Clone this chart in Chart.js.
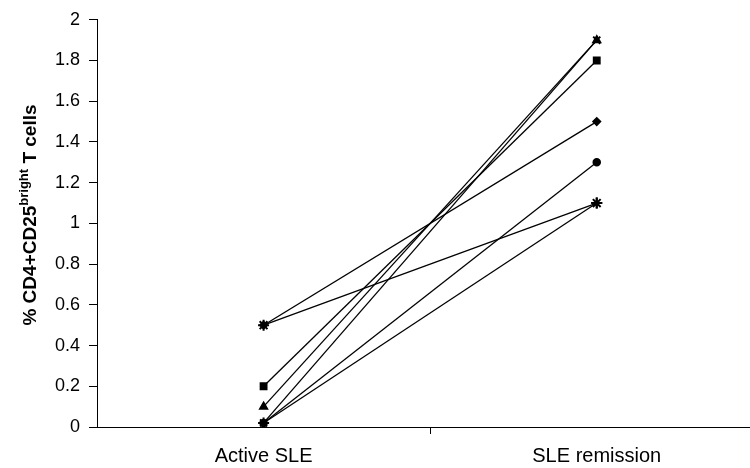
<!DOCTYPE html>
<html>
<head>
<meta charset="utf-8">
<script src="https://cdn.jsdelivr.net/npm/chart.js@4.4.1/dist/chart.umd.min.js"></script>
<style>
  body { margin: 0; background: #fff; overflow: hidden; }
  #chart { display: block; }
</style>
</head>
<body>
<canvas id="chart" width="750" height="468"></canvas>
<script>
const categories = ["Active SLE", "SLE remission"];
// one entry per patient: value in active disease, value in remission
const activeValues = [0.5, 0.2, 0.1, 0.02, 0.5, 0.02, 0.02];
const remissionValues = [1.5, 1.8, 1.9, 1.9, 1.1, 1.3, 1.1];
const markers = ["rectRot", "rect", "triangle", "crossRot", "star", "circle", "cross"];
const yTicks = [0, 0.2, 0.4, 0.6, 0.8, 1, 1.2, 1.4, 1.6, 1.8, 2];

const fontFamily = "'Liberation Sans', Arial, sans-serif";
const markerSize = { rectRot: 3.8, rect: 4.5, triangle: 4.5, crossRot: 5, star: 5.5, circle: 3.5, cross: 5.5 };

// later series sit on top, like the original spreadsheet
const datasets = activeValues.map((a, i) => ({
  label: "Patient " + (i + 1),
  data: [{ x: 1, y: a }, { x: 2, y: remissionValues[i] }],
  order: -i,
  borderColor: "#000",
  backgroundColor: "#000",
  borderWidth: 1.3,
  pointStyle: markers[i],
  pointRadius: markerSize[markers[i]],
  pointBorderWidth: markers[i] === "star" || markers[i] === "cross" || markers[i] === "crossRot" ? 2 : 1.5,
  pointBorderColor: "#000",
  pointBackgroundColor: "#000",
  tension: 0
}));

const yTitle = {
  id: "yTitle",
  afterDraw(chart) {
    const ctx = chart.ctx;
    const parts = [
      { t: "% CD4+CD25", f: "bold 19px " + fontFamily, dy: 0 },
      { t: "bright", f: "bold 13px " + fontFamily, dy: -8 },
      { t: " T cells", f: "bold 19px " + fontFamily, dy: 0 }
    ];
    ctx.save();
    let total = 0;
    parts.forEach(p => { ctx.font = p.f; p.w = ctx.measureText(p.t).width; total += p.w; });
    ctx.translate(36, 215);
    ctx.rotate(-Math.PI / 2);
    ctx.fillStyle = "#000";
    ctx.textBaseline = "alphabetic";
    let x = -total / 2;
    parts.forEach(p => {
      ctx.font = p.f;
      ctx.fillText(p.t, x, p.dy);
      x += p.w;
    });
    ctx.restore();
  }
};

new Chart(document.getElementById("chart"), {
  type: "line",
  data: { datasets },
  plugins: [yTitle],
  options: {
    responsive: false,
    animation: false,
    devicePixelRatio: 1,
    layout: { autoPadding: false, padding: { top: 16, right: 0, left: 0, bottom: 0 } },
    plugins: { legend: { display: false }, tooltip: { enabled: false } },
    scales: {
      x: {
        type: "linear",
        min: 0.5,
        max: 2.46,
        afterBuildTicks: s => { s.ticks = [{ value: 1 }, { value: 1.5 }, { value: 2 }]; },
        afterFit: s => { s.height = 41; },
        ticks: {
          color: "#000",
          font: { family: fontFamily, size: 20 },
          padding: 10,
          maxRotation: 0,
          autoSkip: false,
          callback: v => (v === 1 ? categories[0] : v === 2 ? categories[1] : "")
        },
        grid: {
          drawOnChartArea: false,
          tickLength: 7,
          color: c => (c.tick && c.tick.value === 1.5 ? "#000" : "rgba(0,0,0,0)")
        },
        border: { color: "#000", width: 1 }
      },
      y: {
        min: 0,
        max: 2,
        afterBuildTicks: s => { s.ticks = yTicks.map(v => ({ value: v })); },
        afterFit: s => { s.width = 97; },
        ticks: {
          color: "#000",
          font: { family: fontFamily, size: 18 },
          padding: 9,
          callback: v => String(v)
        },
        grid: { drawOnChartArea: false, tickLength: 8, color: "#000" },
        border: { color: "#000", width: 1 }
      }
    }
  }
});
</script>
</body>
</html>
